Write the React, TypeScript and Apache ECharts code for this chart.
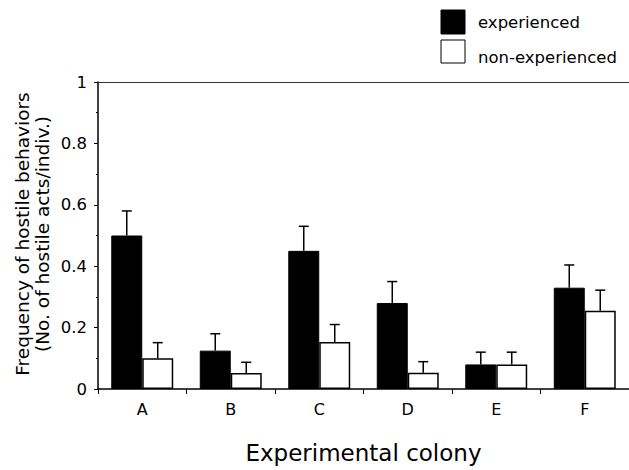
import React, { useEffect, useRef } from "react";
import * as echarts from "echarts";

const categories = ["A", "B", "C", "D", "E", "F"];
const experienced = [0.5, 0.125, 0.45, 0.28, 0.08, 0.33];
const experiencedErrTop = [0.58, 0.18, 0.53, 0.35, 0.12, 0.404];
const nonExperienced = [0.1, 0.052, 0.153, 0.053, 0.08, 0.255];
const nonExperiencedErrTop = [0.151, 0.087, 0.21, 0.089, 0.12, 0.322];
const yTicks = [0, 0.2, 0.4, 0.6, 0.8, 1];

const FONT = "DejaVu Sans";
const BAR_FRACTION = 0.35;

function errorSeries(values: number[], tops: number[], side: number) {
  return {
    type: "custom",
    z: 5,
    renderItem: (params: any, api: any) => {
      const idx = api.value(0);
      const base = api.coord([idx, api.value(2)]);
      const top = api.coord([idx, api.value(1)]);
      const bw = api.size([1, 0])[0] * BAR_FRACTION;
      const x = base[0] + (side * bw) / 2;
      const cap = 5;
      return {
        type: "group",
        children: [
          {
            type: "line",
            shape: { x1: x, y1: base[1], x2: x, y2: top[1] },
            style: { stroke: "#000", lineWidth: 1.5 },
          },
          {
            type: "line",
            shape: { x1: x - cap, y1: top[1], x2: x + cap, y2: top[1] },
            style: { stroke: "#000", lineWidth: 1.5 },
          },
        ],
      };
    },
    encode: { x: 0, y: 1 },
    data: values.map((v, i) => [i, tops[i], v]),
  };
}

export default function App() {
  const ref = useRef<HTMLDivElement>(null);
  useEffect(() => {
    if (!ref.current) return;
    const chart = echarts.init(ref.current, null, { renderer: "svg" });
    chart.setOption({
      animation: false,
      backgroundColor: "#fff",
      textStyle: { fontFamily: FONT },
      grid: { left: 98, right: 0, top: 82, bottom: 81, containLabel: false, outerBoundsMode: "none" },
      legend: { show: false },
      xAxis: [
        {
          type: "category",
          data: categories,
          axisLine: { lineStyle: { color: "#000", width: 1.5 } },
          axisTick: { show: true, length: 5, alignWithLabel: false, lineStyle: { color: "#000" } },
          axisLabel: { color: "#000", fontSize: 16, fontFamily: FONT, margin: 12 },
          name: "Experimental colony",
          nameLocation: "middle",
          nameGap: 52,
          nameTextStyle: { color: "#000", fontSize: 23, fontFamily: FONT },
        },
        {
          type: "category",
          data: categories,
          position: "top",
          axisLine: { lineStyle: { color: "#333", width: 1 } },
          axisTick: { show: false },
          axisLabel: { show: false },
        },
      ],
      yAxis: {
        type: "value",
        min: 0,
        max: 1,
        interval: 0.2,
        axisLine: { show: true, lineStyle: { color: "#000", width: 1.5 } },
        axisTick: { show: true, length: 4, lineStyle: { color: "#000" } },
        minorTick: { show: true, splitNumber: 2, length: 2, lineStyle: { color: "#000" } },
        splitLine: { show: false },
        axisLabel: {
          color: "#000",
          fontSize: 16.5,
          fontFamily: FONT,
          margin: 11,
          formatter: (v: number) => {
            const t = yTicks.find((y) => Math.abs(y - v) < 1e-9);
            return t === undefined ? "" : String(t);
          },
        },
      },
      series: [
        {
          name: "experienced",
          type: "bar",
          data: experienced,
          barWidth: BAR_FRACTION * 100 + "%",
          barGap: "0%",
          itemStyle: { color: "#000", borderColor: "#000", borderWidth: 1 },
        },
        {
          name: "non-experienced",
          type: "bar",
          data: nonExperienced,
          barWidth: BAR_FRACTION * 100 + "%",
          barGap: "0%",
          itemStyle: { color: "#fff", borderColor: "#000", borderWidth: 1.5 },
        },
        errorSeries(experienced, experiencedErrTop, -1),
        errorSeries(nonExperienced, nonExperiencedErrTop, 1),
      ],
      graphic: [
        {
          type: "text",
          x: 32,
          y: 234,
          rotation: Math.PI / 2,
          style: {
            text: "Frequency of hostile behaviors\n(No. of hostile acts/indiv.)",
            font: `18.5px ${FONT}`,
            fill: "#000",
            align: "center",
            verticalAlign: "middle",
            lineHeight: 20,
          },
          originX: 0,
          originY: 0,
        },
        {
          type: "rect",
          shape: { x: 441, y: 10, width: 24, height: 24 },
          style: { fill: "#000", stroke: "#000", lineWidth: 1 },
        },
        {
          type: "text",
          x: 478,
          y: 22,
          style: { text: "experienced", font: `16.5px ${FONT}`, fill: "#000", verticalAlign: "middle" },
        },
        {
          type: "rect",
          shape: { x: 441, y: 40, width: 24, height: 23 },
          style: { fill: "#fff", stroke: "#000", lineWidth: 1 },
        },
        {
          type: "text",
          x: 478,
          y: 57,
          style: { text: "non-experienced", font: `16.5px ${FONT}`, fill: "#000", verticalAlign: "middle" },
        },
      ],
    });
    return () => chart.dispose();
  }, []);
  return <div ref={ref} style={{ width: 629, height: 470, position: "absolute", left: 0, top: 0 }} />;
}
